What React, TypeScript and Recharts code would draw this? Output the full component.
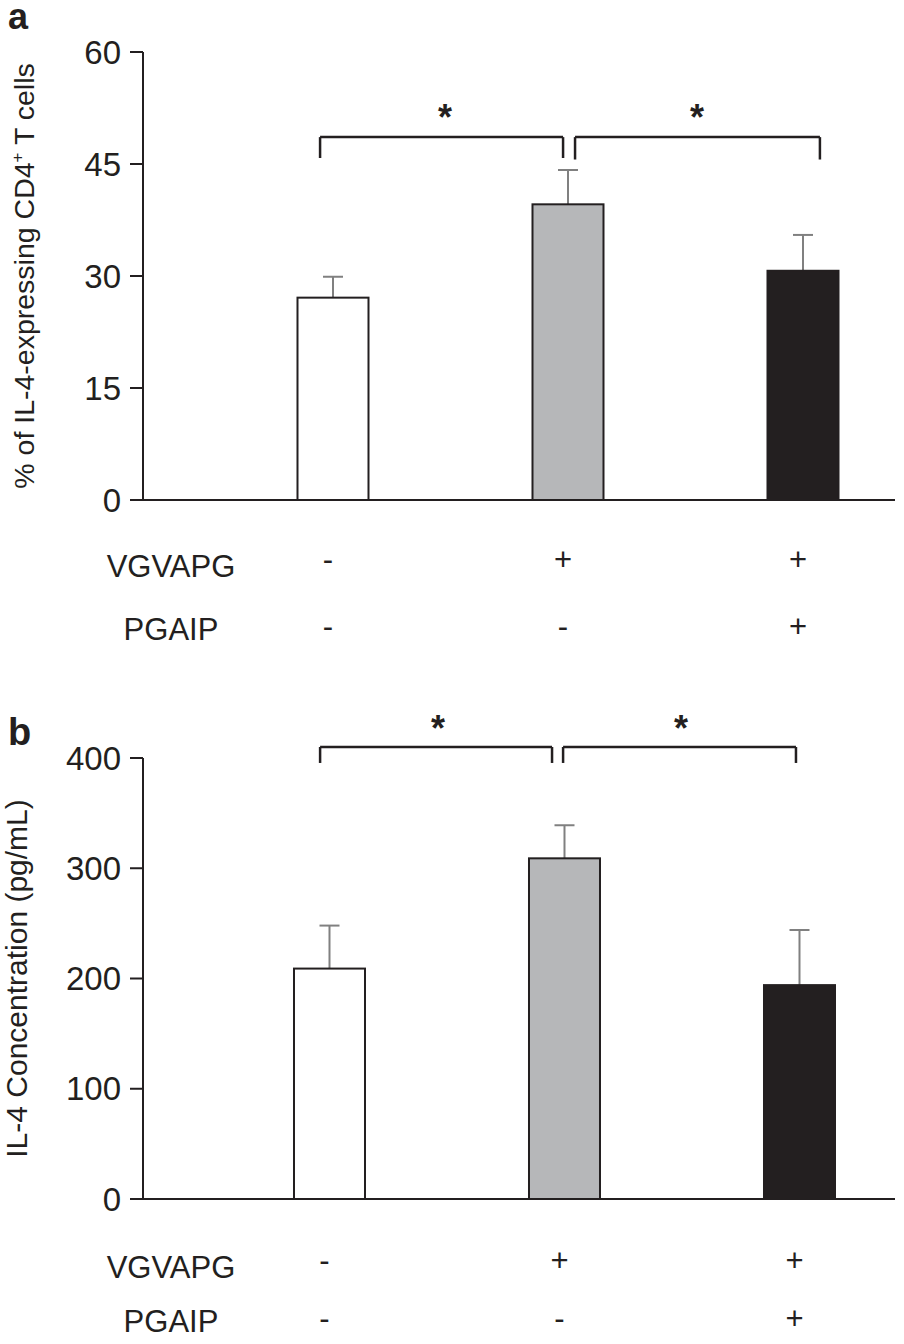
import React from "react";
import { BarChart, Bar, XAxis, YAxis, ReferenceLine, ReferenceDot, Label } from "recharts";

const groups = ["control", "VGVAPG", "VGVAPG + PGAIP"];
const vgvapgSigns = ["-", "+", "+"];
const pgaipSigns = ["-", "-", "+"];
const rowNames = ["VGVAPG", "PGAIP"];

// panel a: % of IL-4 expressing CD4+ T cells
const pctMeans = [27.1, 39.6, 30.7];
const pctErrors = [2.8, 4.6, 4.8];
const pctTicks = [0, 15, 30, 45, 60];

// panel b: IL-4 concentration, pg/mL
const concMeans = [209, 309, 194];
const concErrors = [39, 30, 50];
const concTicks = [0, 100, 200, 300, 400];

// significance brackets [from, to, top, foot] and stars [x, y], data units
const pctBrackets = [[-0.055, 0.979, 48.6, 45.8], [1.03, 2.072, 48.6, 45.6]];
const pctStars = [[0.477, 52.2], [1.549, 52.2]];
const concBrackets = [[-0.04, 0.947, 410, 395.5], [0.994, 1.985, 410, 395.5]];
const concStars = [[0.462, 433.6], [1.496, 433.6]];

const FONT = '"Liberation Sans", Arial, sans-serif';
const INK = "#231f20";
const FILLS = ["#ffffff", "#b6b7b9", "#231f20"];

function ErrBar(props: any) {
  const { x, y, width, height, index, payload } = props;
  const perUnit = height / payload.mean;
  const top = y - payload.err * perUnit;
  const cx = x + width / 2;
  return (
    <g>
      <line x1={cx} x2={cx} y1={y} y2={top} stroke="#808080" strokeWidth={2} />
      <line x1={cx - 10} x2={cx + 10} y1={top} y2={top} stroke="#808080" strokeWidth={2} />
      <rect x={x} y={y} width={width} height={height} fill={FILLS[index]} stroke={INK} strokeWidth={2} />
    </g>
  );
}

function SignTick(props: any) {
  const { x, y, payload, rows } = props;
  const i = payload.value;
  return (
    <g fontFamily={FONT} fontSize={31} fill={INK}>
      <text x={x - 5} y={y + rows[0]} textAnchor="middle">{vgvapgSigns[i]}</text>
      <text x={x - 5} y={y + rows[1]} textAnchor="middle">{pgaipSigns[i]}</text>
      {i === 0 && (
        <>
          <text x={171} y={y + rows[0] + 7} textAnchor="middle">{rowNames[0]}</text>
          <text x={171} y={y + rows[1] + 3} textAnchor="middle">{rowNames[1]}</text>
        </>
      )}
    </g>
  );
}

function Panel(props: any) {
  const {
    letter, letterY, letterSize, means, errors, ticks, marginTop, height, axisHeight,
    domainX, brackets, stars, labelX, labelSize, rows, children,
  } = props;
  const data = groups.map((g, i) => ({ group: g, pos: i, mean: means[i], err: errors[i] }));
  return (
    <BarChart width={904} height={height} data={data}
      margin={{ top: marginTop, right: 9, bottom: 0, left: 0 }}>
      <XAxis type="number" dataKey="pos" domain={domainX} ticks={[0, 1, 2]} allowDataOverflow
        height={axisHeight} tickSize={0} tickMargin={0} tickLine={false}
        axisLine={{ stroke: INK, strokeWidth: 2 }} tick={<SignTick rows={rows} />} interval={0} />
      <YAxis type="number" domain={[0, ticks[ticks.length - 1]]} ticks={ticks} interval={0}
        width={143} tickSize={13} tickMargin={9}
        axisLine={{ stroke: INK, strokeWidth: 2 }} tickLine={{ stroke: INK, strokeWidth: 2 }}
        tick={{ fontSize: 33, fill: INK, fontFamily: FONT }}>
        <Label content={(p: any) => {
          const vb = p.viewBox;
          const cy = vb.y + vb.height / 2;
          return (
            <g fontFamily={FONT} fill={INK}>
              <text x={vb.x + 8} y={letterY} fontSize={letterSize} fontWeight="bold">{letter}</text>
              <text x={labelX} y={cy} fontSize={labelSize} textAnchor="middle"
                transform={`rotate(-90 ${labelX} ${cy})`}>{children}</text>
            </g>
          );
        }} />
      </YAxis>
      <Bar dataKey="mean" barSize={71} isAnimationActive={false} shape={<ErrBar />} />
      {brackets.map((b: number[], k: number) => [
        <ReferenceLine key={`l${k}`} ifOverflow="visible" stroke={INK} strokeWidth={2.5}
          segment={[{ x: b[0], y: b[3] }, { x: b[0], y: b[2] }]} />,
        <ReferenceLine key={`t${k}`} ifOverflow="visible" stroke={INK} strokeWidth={2.5}
          segment={[{ x: b[0], y: b[2] }, { x: b[1], y: b[2] }]} />,
        <ReferenceLine key={`r${k}`} ifOverflow="visible" stroke={INK} strokeWidth={2.5}
          segment={[{ x: b[1], y: b[2] }, { x: b[1], y: b[3] }]} />,
      ])}
      {stars.map((s: number[], k: number) => (
        <ReferenceDot key={`s${k}`} x={s[0]} y={s[1]} r={0} ifOverflow="visible"
          shape={(p: any) => (
            <text x={p.cx} y={p.cy} dy={20} textAnchor="middle" fontFamily={FONT}
              fontSize={36} fontWeight="bold" fill={INK}>*</text>
          )} />
      ))}
    </BarChart>
  );
}

export default function App() {
  return (
    <div style={{ position: "relative", width: 904, height: 1344, overflow: "hidden", background: "#fff" }}>
      <style>{"body{margin:0}"}</style>
      <div style={{ position: "absolute", left: 0, top: 0 }}>
        <Panel letter="a" letterY={29} letterSize={36} means={pctMeans} errors={pctErrors}
          ticks={pctTicks} marginTop={52} height={680} axisHeight={180}
          domainX={[-0.8085, 2.3915]} brackets={pctBrackets} stars={pctStars}
          labelX={34} labelSize={28.5} rows={[70, 137]}>
          <tspan>% of IL-4-expressing CD4</tspan>
          <tspan dy={-11} fontSize={17}>+</tspan>
          <tspan dy={11}> T cells</tspan>
        </Panel>
      </div>
      <div style={{ position: "absolute", left: 0, top: 690 }}>
        <Panel letter="b" letterY={55} letterSize={38} means={concMeans} errors={concErrors}
          ticks={concTicks} marginTop={68} height={654} axisHeight={145}
          domainX={[-0.7936, 2.4064]} brackets={concBrackets} stars={concStars}
          labelX={27} labelSize={30} rows={[72, 130]}>
          IL-4 Concentration (pg/mL)
        </Panel>
      </div>
    </div>
  );
}
